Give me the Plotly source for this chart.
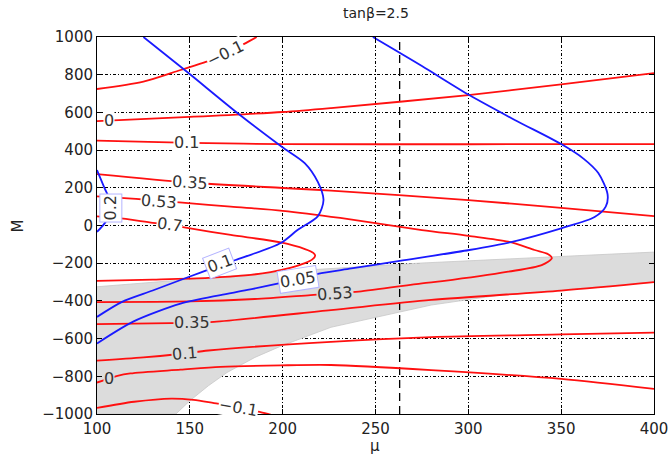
import plotly.graph_objects as go

# ---------------- axes ----------------
mu_ticks = [100, 150, 200, 250, 300, 350, 400]
M_ticks = [-1000, -800, -600, -400, -200, 0, 200, 400, 600, 800, 1000]
M_ticktext = ["\u22121000", "\u2212800", "\u2212600", "\u2212400", "\u2212200", "0",
              "200", "400", "600", "800", "1000"]
title_text = "tan\u03b2=2.5"
mu_limit = 263

# ---------------- red contours ----------------
red_m01_top_mu = [100, 125, 145, 159, 169, 179, 186]
red_m01_top_M = [724, 763, 825, 869, 912, 962, 1000]
red_0_top_mu = [100, 150, 200, 226, 300, 350, 400]
red_0_top_M = [554, 576, 602, 623, 692, 749, 808]
red_01_top_mu = [100, 150, 200, 300, 400]
red_01_top_M = [450, 438, 432, 431, 432]
red_035_top_mu = [100, 150, 200, 226, 300, 350, 400]
red_035_top_M = [273, 228, 199, 185, 135, 93, 50]
red_053_mu = [100, 121, 133.5, 146, 172, 200, 231, 275, 300, 321.5, 335.7, 343, 345,
              339.5, 321.5, 286, 275, 241, 228, 215, 185, 150, 100]
red_053_M = [154, 141, 131, 121, 100, 78, 40, -24, -55, -86, -130, -152, -173,
             -210, -245, -295, -307, -351, -360, -369, -390, -403, -406]
red_07_mu = [100, 111, 130, 139, 148.6, 172, 199, 212, 216.5, 217.5, 216, 212, 204,
             193.5, 180, 160, 130, 100]
red_07_M = [48, 40, 14, 3, -13, -50, -90, -125, -145, -160, -180, -200, -225,
            -247, -265, -278, -287, -294]
red_035_bot_mu = [100, 139.5, 151, 163, 226, 280, 350, 400]
red_035_bot_M = [-523, -518, -516, -511, -449, -395, -345, -300]
red_01_bot_mu = [100, 125, 147, 160, 226, 280, 350, 400]
red_01_bot_M = [-717, -700, -679, -663, -617, -592, -578, -568]
red_0_bot_mu = [100, 106, 111, 118, 145, 166.5, 199, 226, 280, 350, 400]
red_0_bot_M = [-833, -814, -798, -785, -765, -750, -742, -740, -767, -814, -867]
red_m01_bot_mu = [100, 120, 140, 152, 163, 176, 188, 194]
red_m01_bot_M = [-968, -935, -918, -925, -942, -963, -990, -1005]

red_curves = [
    (red_m01_top_mu, red_m01_top_M), (red_0_top_mu, red_0_top_M),
    (red_01_top_mu, red_01_top_M), (red_035_top_mu, red_035_top_M),
    (red_053_mu, red_053_M), (red_07_mu, red_07_M),
    (red_035_bot_mu, red_035_bot_M), (red_01_bot_mu, red_01_bot_M),
    (red_0_bot_mu, red_0_bot_M), (red_m01_bot_mu, red_m01_bot_M),
]

# ---------------- blue contours ----------------
blue_005_mu = [248.6, 275, 300.5, 325, 350, 362, 370, 375, 374, 368, 350, 323, 300.5,
               263, 237, 219, 208, 181, 166.5, 145, 119.5, 100]
blue_005_M = [1000, 846, 692, 560, 432, 355, 278, 165, 100, 45, -15, -88, -130,
              -188, -228, -256, -285, -342, -369, -415, -510, -626]
blue_01_mu = [125, 148.6, 177, 199.5, 212, 219, 222, 219, 208, 199, 174.6, 166, 155.7,
              145, 130, 113.5, 100]
blue_01_M = [1000, 814, 586, 418, 330, 230, 135, 50, -24, -93, -183, -212, -250,
             -289, -345, -405, -485]
blue_02_mu = [100, 104, 107.5, 107, 104, 100]
blue_02_M = [294, 200, 120, 60, 10, -34]

blue_curves = [(blue_005_mu, blue_005_M), (blue_01_mu, blue_01_M), (blue_02_mu, blue_02_M)]

# ---------------- excluded (grey) region ----------------
grey_top_mu = [100, 145, 193, 210, 275, 345, 400]
grey_top_M = [-325, -290, -252, -238, -199, -168, -141]
grey_bot_mu = [400, 350, 315, 280, 251, 226, 199, 185, 170, 160, 150, 142.5, 100]
grey_bot_M = [-300, -343, -372, -422, -485, -540, -640, -700, -780, -850, -930, -1000, -1000]

# ---------------- contour labels ----------------
red_label_text = ["\u22120.1", "0", "0.1", "0.35", "0.53", "0.7",
                  "0.35", "0.1", "0", "0.53", "\u22120.1"]
red_label_mu = [169, 106.5, 148, 150, 133.5, 139, 151, 147, 106.5, 228, 176]
red_label_M = [912, 556, 438, 228, 129, 3, -517, -679, -814, -360, -963]
red_label_angle = [-26, 0, 0, 4, 5, 8, 0, -5, 0, -4, 10]
red_label_in_grey = [False, False, False, False, False, False, True, True, True, True, False]

blue_label_text = ["0.2", "0.1", "0.05"]
blue_label_mu = [107.5, 166, 208]
blue_label_M = [95, -200, -285]
blue_label_angle = [-90, -21, -9]

FONT = "DejaVu Sans"
RED = "#ff1010"
BLUE = "#1a1aff"
GREY = "#dcdcdc"

fig = go.Figure()

fig.add_trace(go.Scatter(
    x=grey_top_mu + grey_bot_mu, y=grey_top_M + grey_bot_M,
    mode="lines", fill="toself", fillcolor=GREY,
    line=dict(color="#c8c8c8", width=0.8), hoverinfo="skip", showlegend=False))

fig.add_trace(go.Scatter(
    x=[mu_limit, mu_limit], y=[M_ticks[0], M_ticks[-1]], mode="lines",
    line=dict(color="black", width=1.3, dash="8px,5px"), hoverinfo="skip", showlegend=False))

for mu, M in red_curves:
    fig.add_trace(go.Scatter(x=mu, y=M, mode="lines",
                             line=dict(color=RED, width=1.8, shape="spline", smoothing=0.8),
                             hoverinfo="skip", showlegend=False))
for mu, M in blue_curves:
    fig.add_trace(go.Scatter(x=mu, y=M, mode="lines",
                             line=dict(color=BLUE, width=1.8, shape="spline", smoothing=0.8),
                             hoverinfo="skip", showlegend=False))

annotations = []
for t, x, y, a, g in zip(red_label_text, red_label_mu, red_label_M, red_label_angle, red_label_in_grey):
    annotations.append(dict(x=x, y=y, xref="x", yref="y", text=t, showarrow=False,
                            textangle=a, font=dict(family=FONT, size=16, color="#333333"),
                            bgcolor=GREY if g else "white", borderpad=0))
for t, x, y, a in zip(blue_label_text, blue_label_mu, blue_label_M, blue_label_angle):
    annotations.append(dict(x=x, y=y, xref="x", yref="y", text=t, showarrow=False,
                            textangle=a, font=dict(family=FONT, size=16, color="#333333"),
                            bgcolor="white", bordercolor="#b4b4ff", borderwidth=1, borderpad=1))

annotations.append(dict(x=0.5, y=1.0637, xref="paper", yref="paper", text=title_text,
                        showarrow=False, xanchor="center", yanchor="middle",
                        font=dict(family=FONT, size=14, color="#222222")))
annotations.append(dict(x=-0.142, y=0.5, xref="paper", yref="paper", text="M",
                        showarrow=False, textangle=-90, xanchor="center", yanchor="middle",
                        font=dict(family=FONT, size=15, color="#222222")))
annotations.append(dict(x=0.499, y=-0.084, xref="paper", yref="paper", text="\u03bc",
                        showarrow=False, xanchor="center", yanchor="middle",
                        font=dict(family=FONT, size=15, color="#222222")))

axis_common = dict(showline=True, linecolor="black", linewidth=1, mirror="ticks",
                   ticks="inside", ticklen=5, tickcolor="black",
                   showgrid=True, gridcolor="black", gridwidth=1,
                   griddash="3px,2px,1px,2px", zeroline=False,
                   ticklabeloverflow="allow", automargin=False,
                   tickfont=dict(family=FONT, size=15, color="#222222"))

fig.update_layout(
    width=668, height=456,
    margin=dict(l=97, r=14, t=37, b=42, autoexpand=False),
    plot_bgcolor="white", paper_bgcolor="white",
    showlegend=False,
    xaxis=dict(range=[100, 400], tickvals=mu_ticks, ticktext=[str(v) for v in mu_ticks],
               ticklabelstandoff=1, **axis_common),
    yaxis=dict(range=[-1000, 1000], tickvals=M_ticks, ticktext=M_ticktext, **axis_common),
    annotations=annotations,
)

fig.write_html("out.html")
